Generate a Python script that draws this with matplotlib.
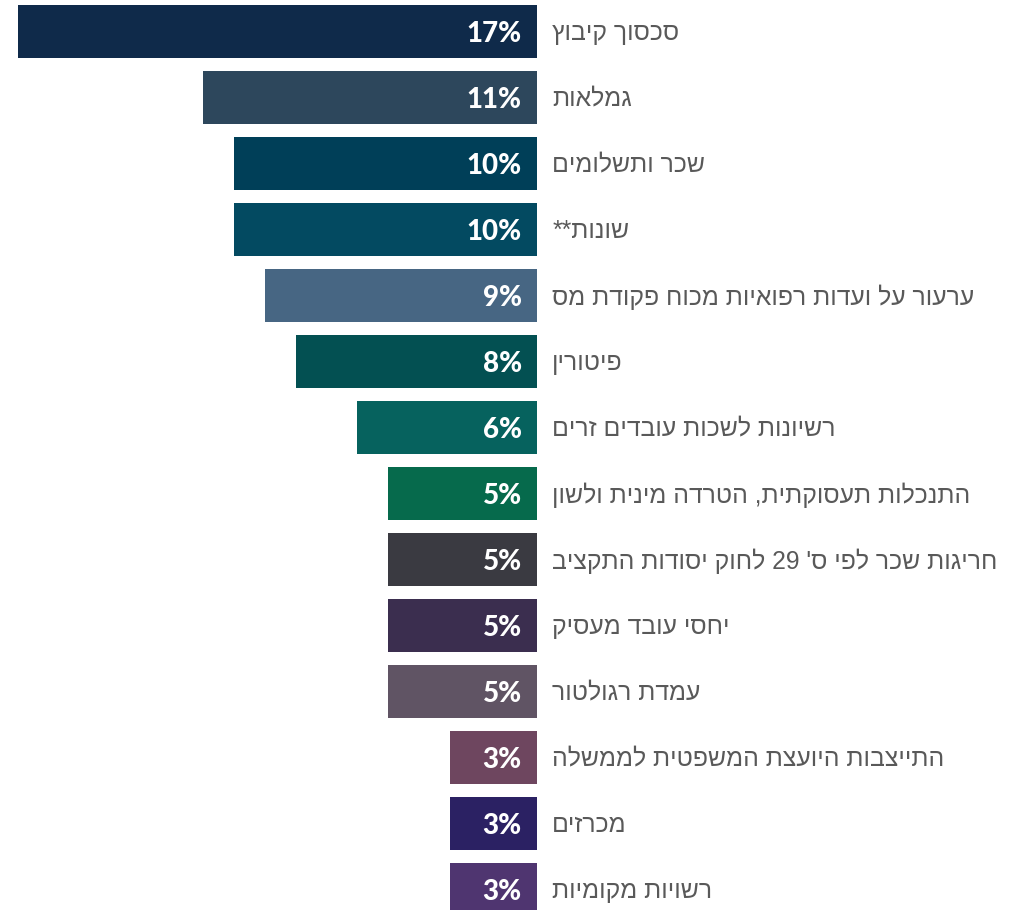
import re
import matplotlib
matplotlib.use("Agg")
import matplotlib.pyplot as plt

# categories (logical Hebrew order), top to bottom
labels = [
    "סכסוך קיבוץ",
    "גמלאות",
    "שכר ותשלומים",
    "שונות**",
    "ערעור על ועדות רפואיות מכוח פקודת מס",
    "פיטורין",
    "רשיונות לשכות עובדים זרים",
    "התנכלות תעסוקתית, הטרדה מינית ולשון",
    "חריגות שכר לפי ס' 29 לחוק יסודות התקציב",
    "יחסי עובד מעסיק",
    "עמדת רגולטור",
    "התייצבות היועצת המשפטית לממשלה",
    "מכרזים",
    "רשויות מקומיות",
]
values = [17, 11, 10, 10, 9, 8, 6, 5, 5, 5, 5, 3, 3, 3]
colors = [
    "#0f2a4a", "#2d475c", "#003f58", "#034a61", "#476683", "#035052",
    "#06625e", "#066a4c", "#3a3a41", "#3b2e4f", "#605464", "#6e465f",
    "#2b2163", "#4f3570",
]


def rtl(s):
    # reverse for right-to-left display, keep digit runs as they are
    r = s[::-1]
    return re.sub(r"\d+", lambda m: m.group(0)[::-1], r)


fig = plt.figure(figsize=(10.18, 9.10), dpi=100)
ax = fig.add_axes([18 / 1018, 0, 524.6 / 1018, 1])

gap = 0.18  # bars stop a little short of the zero line
y = list(range(len(values)))
ax.barh(y, [-(v - gap) for v in values], left=-gap, height=0.8,
        color=colors, align="center")

for i, v in enumerate(values):
    ax.annotate(f"{v}%", xy=(-gap, i), xytext=(-11, -1.5),
                textcoords="offset points", ha="right", va="center",
                color="white", fontsize=20, fontweight="black",
                family="Lato")
    ax.annotate(rtl(labels[i]), xy=(-gap, i), xytext=(11, -1),
                textcoords="offset points", ha="left", va="center",
                color="#595959", fontsize=17.8, family="Liberation Sans",
                annotation_clip=False)

ax.set_xlim(-17, 0)
ax.set_ylim(13.31, -0.477)
ax.axis("off")

fig.savefig("out.png", dpi=100)
